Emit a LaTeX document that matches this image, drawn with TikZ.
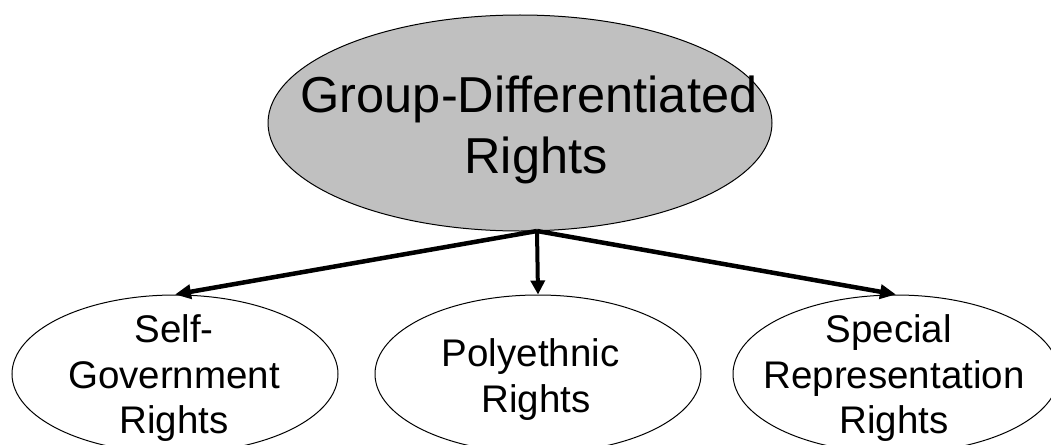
\documentclass[tikz,border=0pt]{standalone}
\usepackage{fontspec}
\setmainfont{Liberation Sans}
\usetikzlibrary{shapes.geometric,arrows.meta}
\definecolor{topgray}{HTML}{C0C0C0}
\newcommand{\trail}{\hspace*{0.278em}}
\begin{document}
\begin{tikzpicture}[x=1pt,y=-1pt,
  bubble/.style={ellipse, draw=black, line width=1pt, inner sep=0pt},
  topbubble/.style={bubble, fill=topgray, minimum width=504pt, minimum height=216pt},
  leafbubble/.style={bubble, minimum width=326pt, minimum height=158pt},
  toplabel/.style={align=center, font=\fontsize{50.5}{61}\selectfont, anchor=base, inner sep=0pt},
  leaflabel/.style={align=center, font=\fontsize{38.5}{45.3}\selectfont, anchor=base, inner sep=0pt},
  link/.style={line width=4.5pt, -{Triangle[length=16pt,width=14pt]}},
  stem/.style={line width=4pt, -{Triangle[length=14pt,width=14pt]}},
]
\clip (0,0) rectangle (1051,444);

% root concept (label anchored at the baseline of its last line)
\node[topbubble] (root) at (520,123) {};
\node[toplabel] (rootlabel) at (536,173.3) {Group-Differentiated\trail\\Rights};

% three kinds of rights
\node[leafbubble] (selfgov) at (175,374) {};
\node[leafbubble] (poly) at (538,374) {};
\node[leafbubble] (special) at (896,374) {};

\node[leaflabel] (selfgovlabel) at (174,433.3) {Self-\\Government\trail\\Rights};
\node[leaflabel] (polylabel) at (536,412) {Polyethnic\trail\\Rights};
\node[leaflabel] (speciallabel) at (894,433.3) {Special\trail\\Representation\trail\\Rights};

% connectors from the bottom of the root
\coordinate (fork) at (537,231);
\draw[link] (fork) -- (selfgov.north);
\draw[stem] (fork) -- (poly.north);
\draw[link] (fork) -- (special.north);
\end{tikzpicture}
\end{document}
